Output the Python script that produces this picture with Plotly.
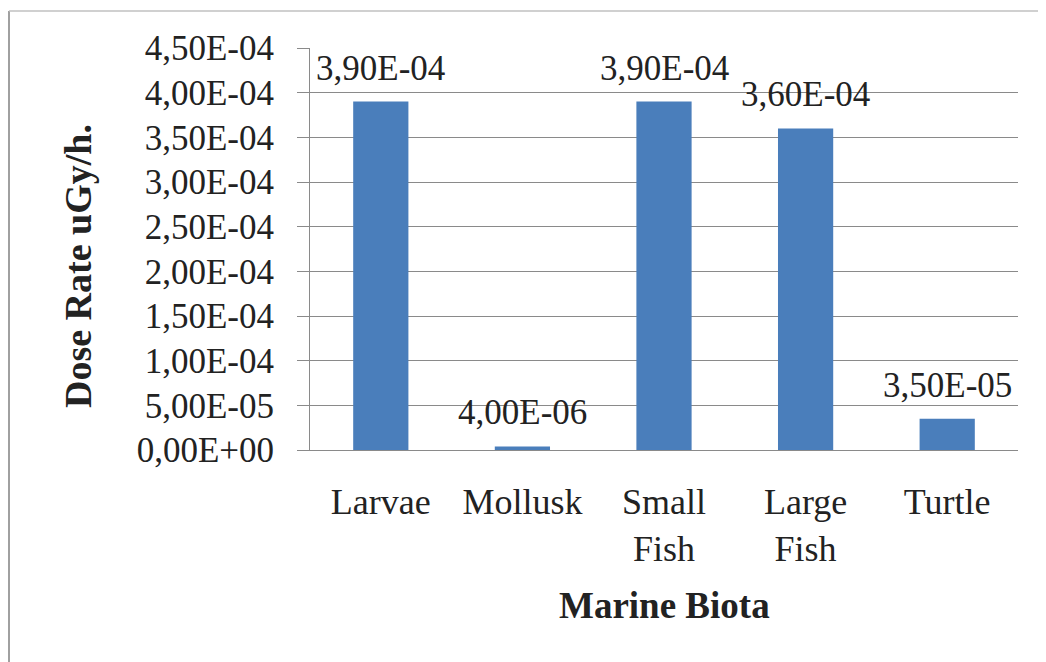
import plotly.graph_objects as go

categories = ["Larvae", "Mollusk", "Small<br>Fish", "Large<br>Fish", "Turtle"]
values = [3.9e-4, 4.0e-6, 3.9e-4, 3.6e-4, 3.5e-5]
value_labels = ["3,90E-04", "4,00E-06", "3,90E-04", "3,60E-04", "3,50E-05"]
tick_vals = [0, 5e-5, 1e-4, 1.5e-4, 2e-4, 2.5e-4, 3e-4, 3.5e-4, 4e-4, 4.5e-4]
tick_text = ["0,00E+00", "5,00E-05", "1,00E-04", "1,50E-04", "2,00E-04",
             "2,50E-04", "3,00E-04", "3,50E-04", "4,00E-04", "4,50E-04"]

FONT = "Liberation Serif, Times New Roman, serif"
INK = "#222222"
GRID = "#8a8a8a"

# figure sized for the page's 8px body margin
W, H = 1038, 654
L, R, T, B = 302, 28, 40, 212
PW, PH = W - L - R, H - T - B

def px_x(x):
    return (x - L) / PW

def px_y(y):
    return (T + PH - y) / PH

fig = go.Figure()
fig.add_trace(go.Bar(
    x=categories, y=values, width=0.39,
    marker=dict(color="#4A7EBB", line=dict(width=0)),
    hoverinfo="skip",
))

annotations = []
for c, v, t in zip(categories, values, value_labels):
    annotations.append(dict(
        x=c, y=v, xref="x", yref="y", text=t, showarrow=False,
        yanchor="bottom", yshift=12,
        font=dict(family=FONT, size=35, color=INK),
    ))

annotations.append(dict(
    x=px_x(70), y=px_y(258), xref="paper", yref="paper",
    text="<b>Dose Rate uGy/h.</b>", textangle=-90, showarrow=False,
    xanchor="center", yanchor="middle",
    font=dict(family=FONT, size=38, color=INK),
))
annotations.append(dict(
    x=0.5, y=px_y(597), xref="paper", yref="paper",
    text="<b>Marine Biota</b>", showarrow=False,
    xanchor="center", yanchor="middle",
    font=dict(family=FONT, size=37, color=INK),
))

# outer frame (left and top edges visible in the reference)
shapes = [
    dict(type="line", xref="paper", yref="paper",
         x0=px_x(1), x1=px_x(1), y0=px_y(3), y1=px_y(700),
         line=dict(color="#a0a0a0", width=2)),
    dict(type="line", xref="paper", yref="paper",
         x0=px_x(1), x1=px_x(1100), y0=px_y(3), y1=px_y(3),
         line=dict(color="#c0c0c0", width=1.5)),
]

fig.update_layout(
    width=W, height=H,
    margin=dict(l=L, r=R, t=T, b=B, autoexpand=False),
    paper_bgcolor="white", plot_bgcolor="white",
    showlegend=False,
    bargap=0.61,
    annotations=annotations,
    shapes=shapes,
    font=dict(family=FONT, color=INK),
)

fig.update_xaxes(
    showgrid=False, showline=True, linecolor=GRID, linewidth=1,
    ticks="", ticklabelstandoff=20,
    tickfont=dict(family=FONT, size=36, color=INK),
    fixedrange=True,
)
fig.update_yaxes(
    range=[0, 4.5e-4], tickvals=tick_vals, ticktext=tick_text,
    showgrid=True, gridcolor=GRID, gridwidth=1,
    showline=True, linecolor=GRID, linewidth=1,
    ticks="outside", ticklen=12, tickcolor=GRID,
    ticklabelstandoff=16,
    tickfont=dict(family=FONT, size=35, color=INK),
    zeroline=False, fixedrange=True,
)

fig.write_html("out.html")
